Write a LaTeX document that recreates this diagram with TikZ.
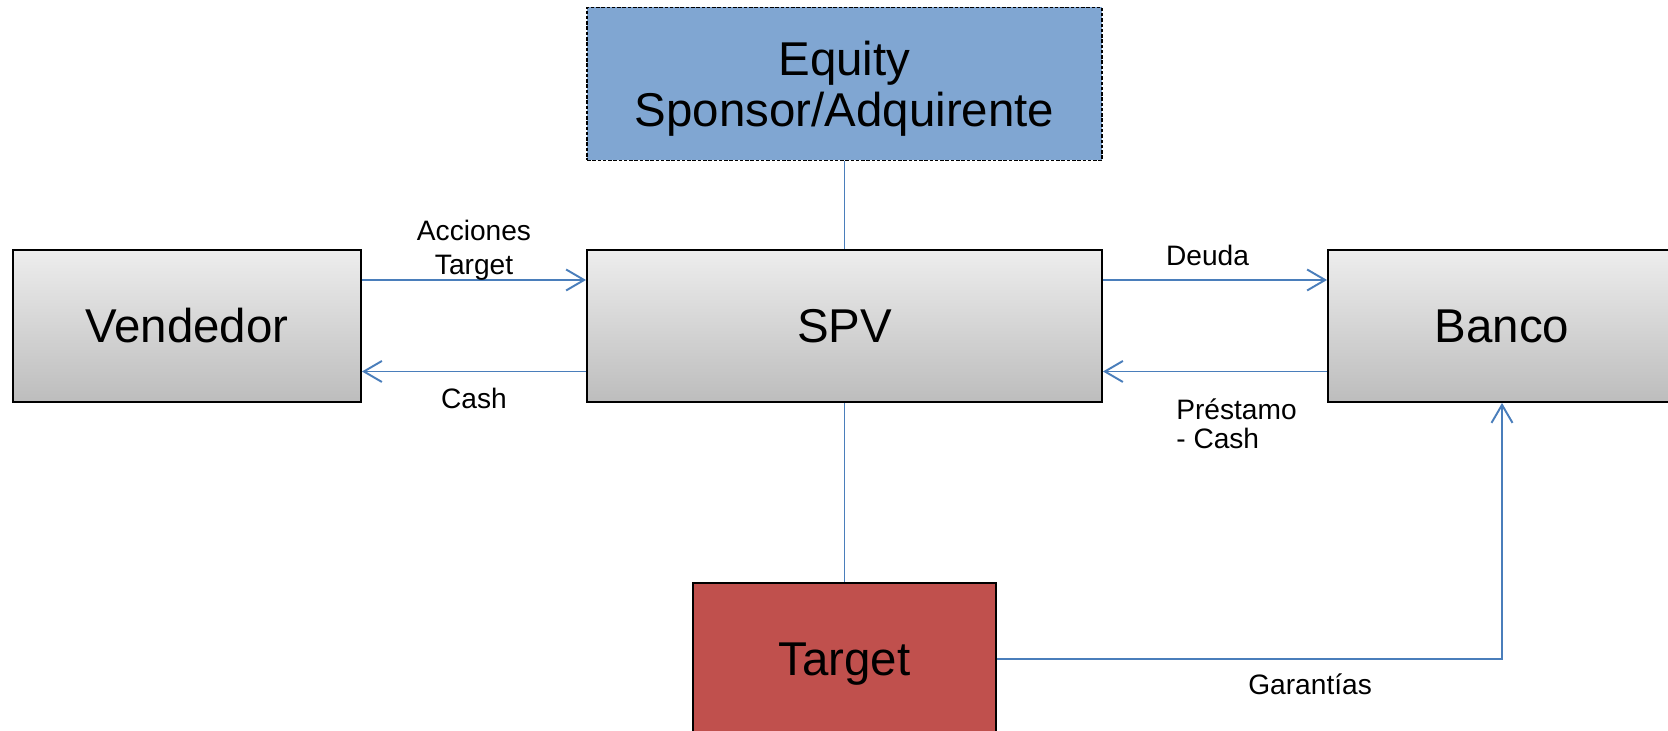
\documentclass[tikz,border=0pt]{standalone}
\usepackage{fontspec}
\setmainfont{Liberation Sans}
\usetikzlibrary{positioning,arrows.meta}
\definecolor{linkblue}{RGB}{74,126,187}
\definecolor{equityblue}{RGB}{128,166,210}
\definecolor{targetred}{RGB}{192,80,77}

\begin{document}
\begin{tikzpicture}[node distance=13.15cm,on grid,
  box/.style={draw=black,line width=1.1pt,minimum width=6.96cm,minimum height=3.04cm,
    top color=black!7,bottom color=black!26,font=\fontsize{27}{30}\selectfont},
  widebox/.style={box,minimum width=10.3cm},
  equitybox/.style={draw=black,dashed,dash pattern=on 2pt off 1pt,line width=0.8pt,fill=equityblue,
    minimum width=10.3cm,minimum height=3.06cm,align=center,font=\fontsize{27}{29}\selectfont},
  targetbox/.style={draw=black,line width=1.1pt,fill=targetred,minimum width=6.06cm,
    minimum height=3.04cm,font=\fontsize{27}{30}\selectfont},
  link/.style={linkblue,line width=1.1pt},
  tip/.style={-{Straight Barb[length=3.6mm,width=4.2mm]}},
  lbl/.style={text=black,font=\fontsize{16}{18}\selectfont,align=center,inner sep=2pt}]
\useasboundingbox (0,0) rectangle (33.36,14.62);
\node[widebox] (spv) at (16.89,8.10) {SPV};
\node[box] (vendedor) [left=of spv] {Vendedor};
\node[box] (banco) [right=of spv] {Banco};
\node[equitybox] (equity) [above=4.84cm of spv] {\raisebox{-1.3mm}[\height][\depth]{\begin{tabular}{@{}c@{}}Equity\\Sponsor/Adquirente\end{tabular}}};
\node[targetbox] (target) [below=6.66cm of spv] {\raisebox{-1.1mm}[\height][\depth]{Target}};
\path[link,tip]
([yshift=9.2mm]vendedor.east) edge node[lbl,above,yshift=-1mm,font=\fontsize{16}{19.5}\selectfont] {Acciones\\Target} ([yshift=9.2mm]spv.west)
([yshift=-9.1mm]spv.west) edge node[lbl,below,yshift=-2.5mm] {Cash} ([yshift=-9.1mm]vendedor.east)
([yshift=9.2mm]spv.east) edge node[lbl,above,xshift=-1.5mm,yshift=2mm] {Deuda} ([yshift=9.2mm]banco.west)
([yshift=-9.1mm]banco.west) edge node[lbl,below,align=left,xshift=4.3mm,yshift=-4.6mm,font=\fontsize{16}{16.3}\selectfont] {Préstamo\\- Cash} ([yshift=-9.1mm]spv.east)
(equity) edge[-] (spv)
(spv) edge[-] (target);
\draw[link,tip] (target.east) -| node[lbl,below,pos=0.31,yshift=-2mm] {Garantías} (banco.south);
\end{tikzpicture}
\end{document}
